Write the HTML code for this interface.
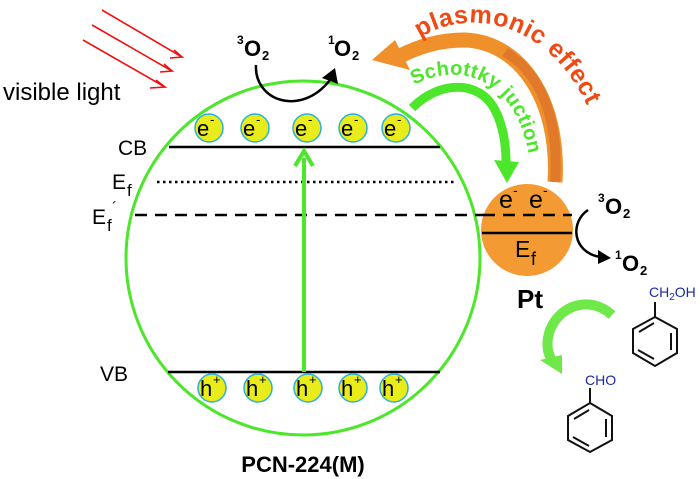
<!DOCTYPE html>
<html><head><meta charset="utf-8"><style>
html,body{margin:0;padding:0;background:#fff}
svg{display:block}
text{font-family:"Liberation Sans",Arial,sans-serif}
</style></head><body>
<svg width="700" height="479" viewBox="0 0 700 479" xmlns="http://www.w3.org/2000/svg">
<g stroke="#f01010" stroke-width="1.6" fill="none">
<path d="M102,10 L182,57 L170,58"/>
<path d="M92,25 L172,71 L160,72"/>
<path d="M83,40 L165,87 L150,88"/>
<path d="M174,50 L182,57 M164,64 L172,71 M156,80 L165,87"/>
</g>
<text x="3" y="100" font-size="24">visible light</text>

<circle cx="303" cy="258" r="177" fill="none" stroke="#4ce62a" stroke-width="3"/>
<line x1="169" y1="147" x2="440" y2="147" stroke="#000" stroke-width="2.5"/>
<line x1="157" y1="182" x2="457" y2="182" stroke="#000" stroke-width="2.5" stroke-dasharray="2.5,3.5"/>
<line x1="135" y1="215" x2="572" y2="215" stroke="#000" stroke-width="2.5" stroke-dasharray="12,8"/>
<line x1="168" y1="372" x2="440" y2="372" stroke="#000" stroke-width="2.5"/>
<line x1="304" y1="372" x2="304" y2="158" stroke="#4ce62a" stroke-width="4"/>
<path d="M295,166 L304,151 L313,166" fill="none" stroke="#4ce62a" stroke-width="4"/>

<text x="118" y="155" font-size="21">CB</text>
<text x="112" y="189" font-size="21">E</text><text x="127" y="196" font-size="17">f</text>
<text x="92" y="224" font-size="21">E</text><text x="107" y="231" font-size="17">f</text><text x="112" y="212" font-size="15">´</text>
<text x="100" y="381" font-size="21">VB</text>

<g fill="#e8ec1a" stroke="#2ab0e0" stroke-width="1.5">
<circle cx="209" cy="128" r="14"/><circle cx="255" cy="128" r="14"/><circle cx="307" cy="128" r="14"/><circle cx="353" cy="128" r="14"/><circle cx="396" cy="128" r="14"/>
<circle cx="212" cy="388" r="14"/><circle cx="258" cy="388" r="14"/><circle cx="308" cy="388" r="14"/><circle cx="353" cy="388" r="14"/><circle cx="394" cy="388" r="14"/>
</g>
<g font-size="22">
<text x="197" y="136">e</text><text x="210" y="124" font-size="13">-</text>
<text x="243" y="136">e</text><text x="256" y="124" font-size="13">-</text>
<text x="295" y="136">e</text><text x="308" y="124" font-size="13">-</text>
<text x="341" y="136">e</text><text x="354" y="124" font-size="13">-</text>
<text x="384" y="136">e</text><text x="397" y="124" font-size="13">-</text>
<text x="200" y="396">h</text><text x="213" y="384" font-size="13">+</text>
<text x="246" y="396">h</text><text x="259" y="384" font-size="13">+</text>
<text x="296" y="396">h</text><text x="309" y="384" font-size="13">+</text>
<text x="341" y="396">h</text><text x="354" y="384" font-size="13">+</text>
<text x="382" y="396">h</text><text x="395" y="384" font-size="13">+</text>
</g>
<text x="303" y="472" font-size="22" font-weight="bold" text-anchor="middle">PCN-224(M)</text>

<text x="237" y="44" font-size="12" font-weight="bold">3</text><text x="244" y="56" font-size="22" font-weight="bold">O</text><text x="262" y="60" font-size="13" font-weight="bold">2</text>
<text x="328" y="44" font-size="12" font-weight="bold">1</text><text x="334" y="56" font-size="22" font-weight="bold">O</text><text x="352" y="60" font-size="13" font-weight="bold">2</text>
<path d="M256,65 C254,100 300,118 330,80" fill="none" stroke="#000" stroke-width="2.5"/>
<path d="M322,78 L335,68 L338,84 z" fill="#000"/>

<path d="M555,182 C560,100 520,42 465,40 C440,40 420,46 400,56" fill="none" stroke="#f0902a" stroke-width="15"/>
<path d="M555,182 C560,110 535,70 505,52" fill="none" stroke="#e07a2a" stroke-width="10"/>
<path d="M372,60 L395,40 L410,70 z" fill="#f0902a"/>
<path id="pp" d="M420,38 C470,5 565,20 600,140" fill="none"/>
<text font-size="25" font-weight="bold" fill="#f04a14" letter-spacing="0.5"><textPath href="#pp">plasmonic effect</textPath></text>

<path d="M412,108 C440,80 480,80 495,110 C503,125 506,145 506,162" fill="none" stroke="#4ce62a" stroke-width="9"/>
<path d="M494,160 L519,162 L507,183 z" fill="#4ce62a"/>
<path id="sp" d="M414,85 C465,58 528,82 532,185" fill="none"/>
<text font-size="20" font-weight="bold" fill="#4ce62a" letter-spacing="0.3"><textPath href="#sp">Schottky juction</textPath></text>

<circle cx="527" cy="230" r="46" fill="#f39a33"/>
<line x1="483" y1="215" x2="572" y2="215" stroke="#000" stroke-width="2.5" stroke-dasharray="12,8"/>
<line x1="482" y1="233" x2="572" y2="233" stroke="#000" stroke-width="2.5"/>
<text x="499" y="208" font-size="25">e</text><text x="513" y="195" font-size="14">-</text>
<text x="529" y="208" font-size="25">e</text><text x="543" y="195" font-size="14">-</text>
<text x="515" y="257" font-size="23">E</text><text x="531" y="265" font-size="18">f</text>
<text x="598" y="202" font-size="12" font-weight="bold">3</text><text x="605" y="214" font-size="22" font-weight="bold">O</text><text x="623" y="218" font-size="13" font-weight="bold">2</text>
<path d="M588,210 C570,222 572,252 600,257" fill="none" stroke="#000" stroke-width="2.5"/>
<path d="M598,250 L611,258 L598,264 z" fill="#000"/>
<text x="615" y="259" font-size="12" font-weight="bold">1</text><text x="622" y="271" font-size="22" font-weight="bold">O</text><text x="640" y="275" font-size="13" font-weight="bold">2</text>
<text x="517" y="308" font-size="26" font-weight="bold">Pt</text>

<path d="M612,315 C590,295 560,305 550,330 C545,345 548,355 553,362" fill="none" stroke="#6fe84a" stroke-width="10"/>
<path d="M540,360 L562,355 L562,374 z" fill="#6fe84a"/>

<g stroke="#111" stroke-width="2" fill="none">
<polygon points="655,317 677,329 677,353 655,366 633,353 633,329"/>
<line x1="655" y1="317" x2="655" y2="302"/>
<line x1="671" y1="333" x2="671" y2="350"/><line x1="654" y1="359" x2="638" y2="350"/><line x1="639" y1="332" x2="654" y2="323"/>
<polygon points="590,403 612,416 612,440 590,452 568,440 568,416"/>
<line x1="590" y1="403" x2="590" y2="388"/>
<line x1="606" y1="419" x2="606" y2="437"/><line x1="589" y1="446" x2="573" y2="437"/><line x1="574" y1="419" x2="589" y2="410"/>
</g>
<text x="649" y="297" font-size="14" fill="#1a2aa0">CH<tspan font-size="10" dy="3">2</tspan><tspan dy="-3">OH</tspan></text>
<text x="585" y="385" font-size="14" fill="#1a2aa0">CHO</text>
</svg>
</body></html>
